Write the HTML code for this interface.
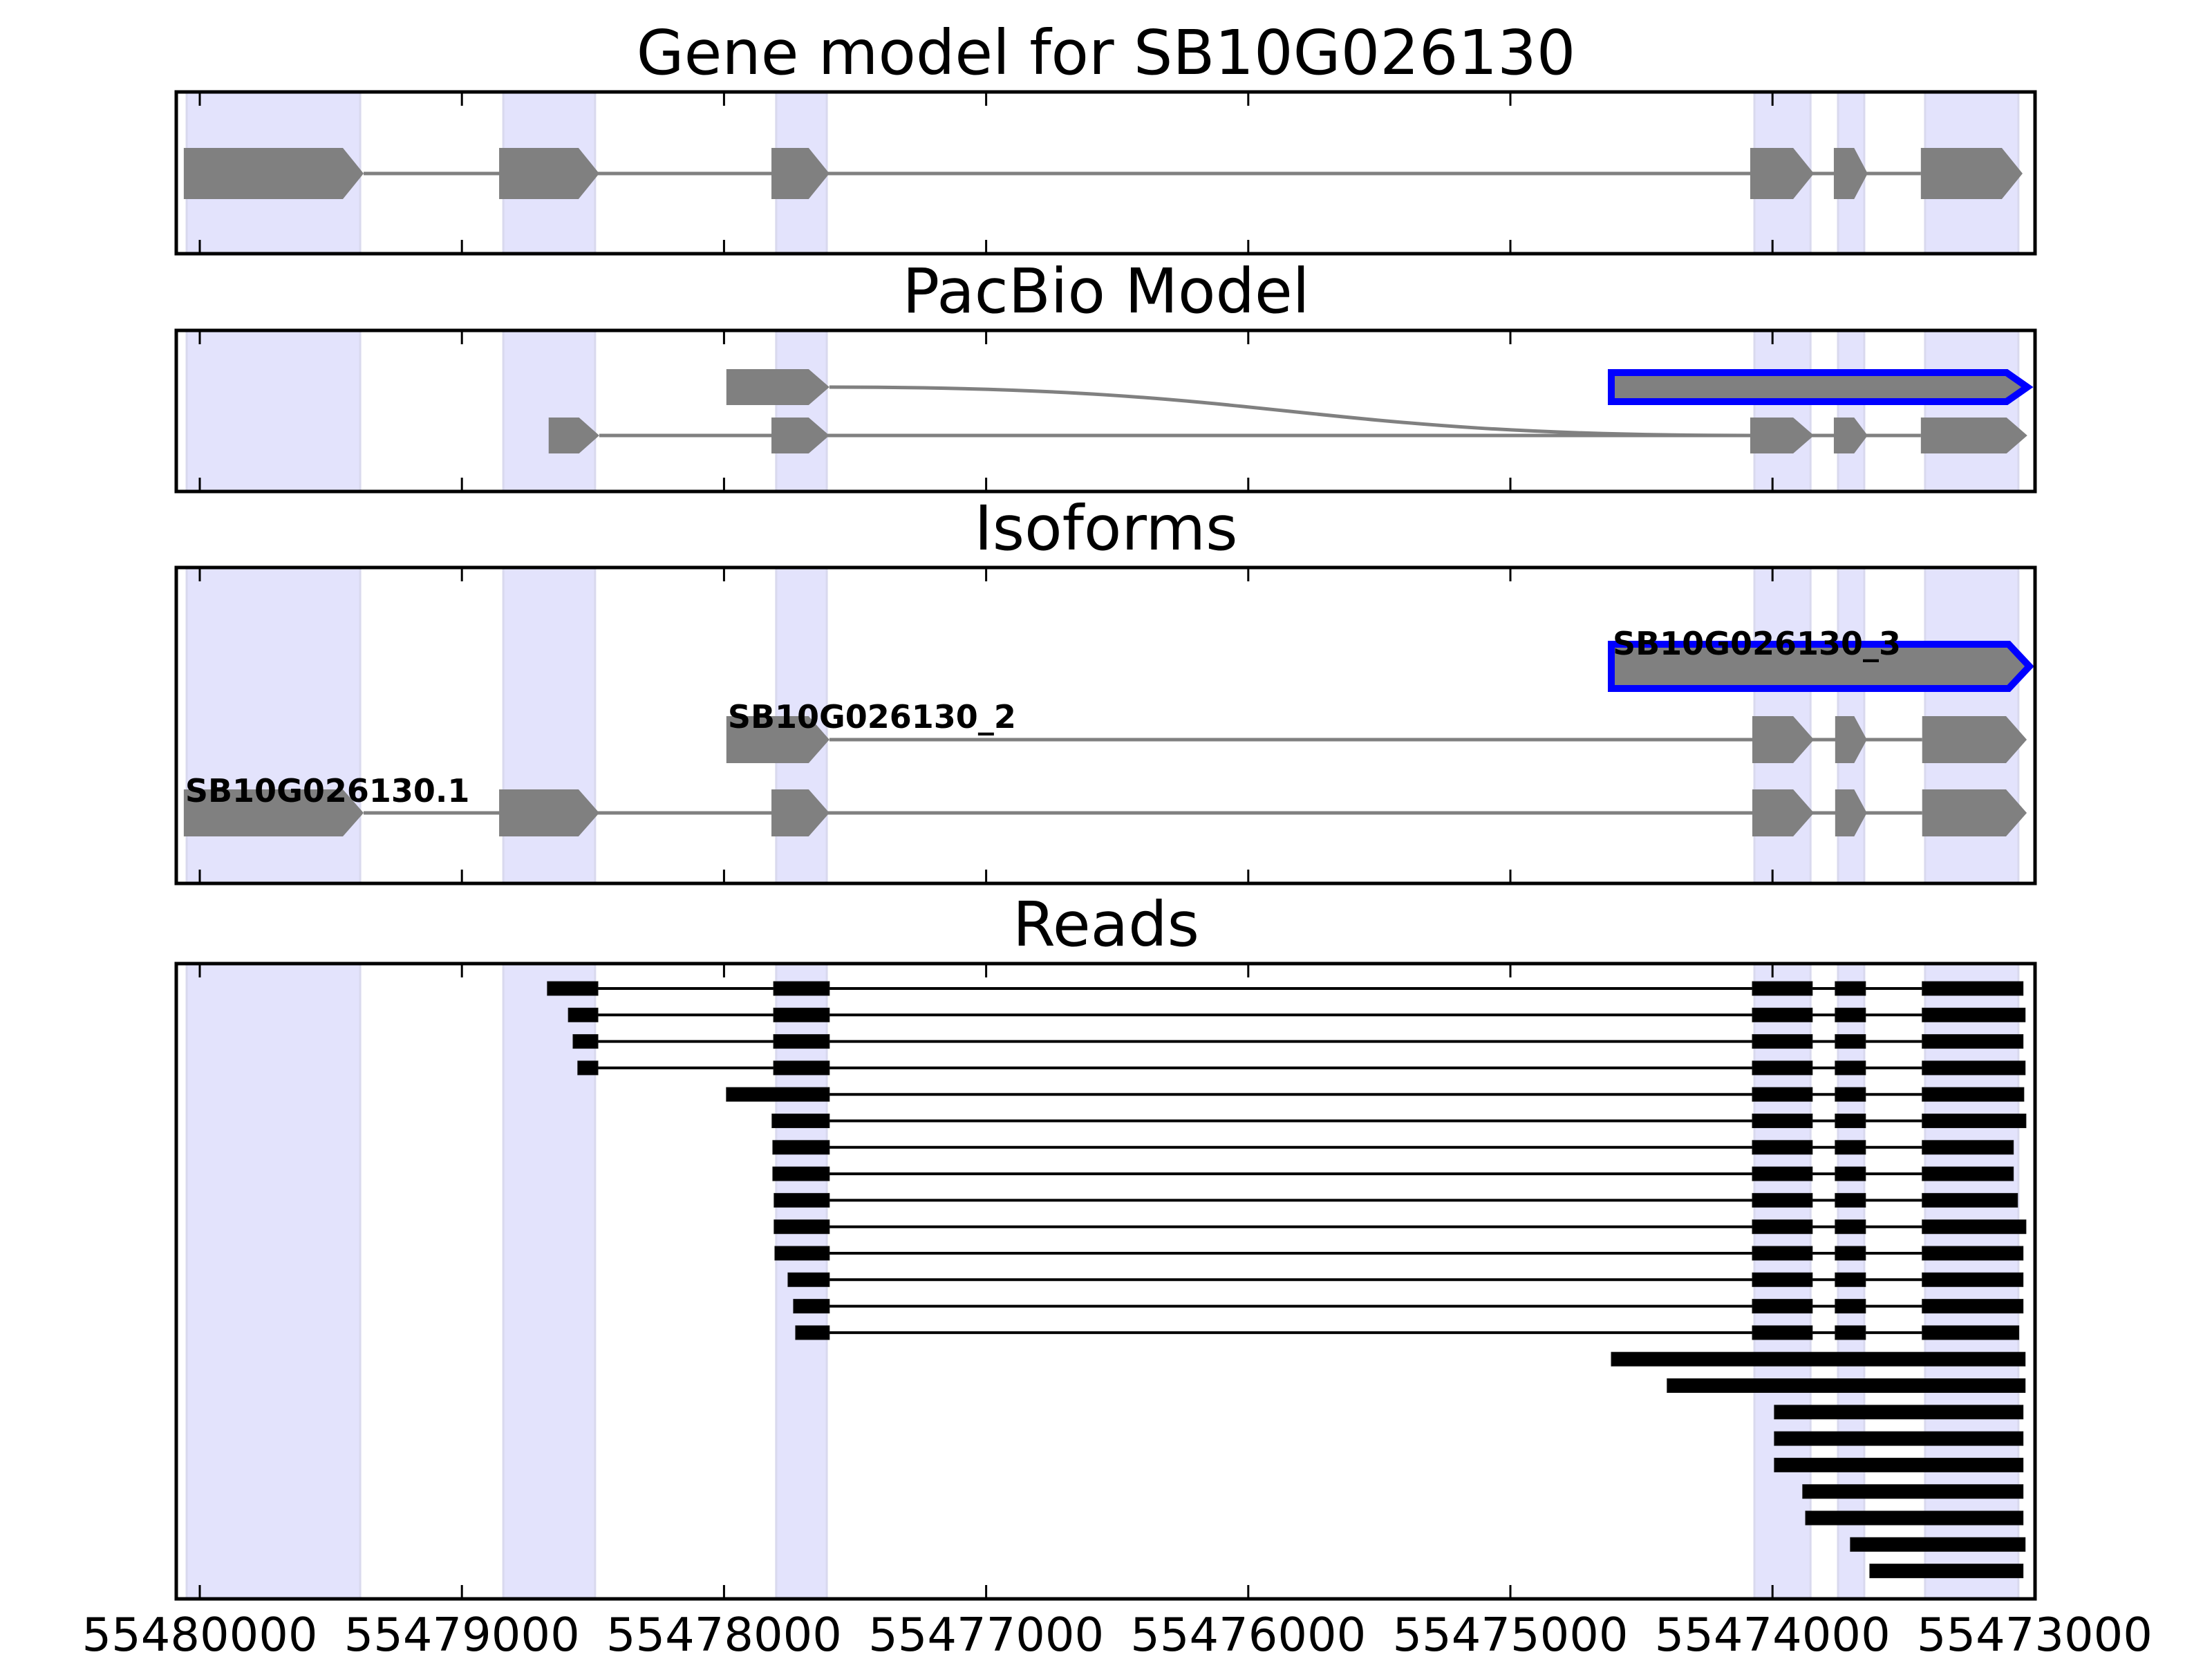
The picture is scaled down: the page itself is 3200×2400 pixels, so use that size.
<!DOCTYPE html>
<html><head><meta charset="utf-8"><style>
html,body{margin:0;padding:0;background:#fff;}
svg{display:block;font-family:"DejaVu Sans","Liberation Sans",sans-serif;}
</style></head><body>
<svg id="chart" width="3200" height="2400" viewBox="0 0 3200 2400" xmlns="http://www.w3.org/2000/svg"></svg>
<script>
// ---- data ----
const tickValues = [55480000,55479000,55478000,55477000,55476000,55475000,55474000,55473000];
const tickLabels = ["55480000","55479000","55478000","55477000","55476000","55475000","55474000","55473000"];
const shadeStarts = [55480050,55478842,55477801,55474069,55473750,55473418];
const shadeEnds   = [55479388,55478492,55477608,55473855,55473650,55473062];
const geneExons = [[55480061,55479375],[55478858,55478476],[55477819,55477598],[55474085,55473842],[55473766,55473637],[55473434,55473046]];
const pacbioRow1 = [[55477991,55477598]];
const pacbioRow1Highlight = [55474615,55473028];
const pacbioRow2 = [[55478669,55478476],[55477819,55477598],[55474085,55473842],[55473766,55473637],[55473434,55473028]];
const isoNames = ["SB10G026130.1","SB10G026130_2","SB10G026130_3"];
const iso1 = [[55480061,55479375],[55478858,55478476],[55477819,55477598],[55474077,55473842],[55473761,55473640],[55473429,55473030]];
const iso2 = [[55477991,55477598],[55474077,55473842],[55473761,55473640],[55473429,55473030]];
const iso3 = [[55474615,55473020]];
const readFirstStart = [55478674,55478594,55478576,55478558,55477991,55477817,55477814,55477814,55477809,55477809,55477806,55477756,55477735,55477727];
const readEnds = [55473044,55473036,55473044,55473036,55473041,55473033,55473081,55473081,55473065,55473033,55473044,55473044,55473044,55473060];
const readSpliced = [true,true,true,true,false,false,false,false,false,false,false,false,false,false];
const readInnerBlocks = [[55477811,55477598],[55474077,55473848],[55473761,55473645]];
const readLastStart = 55473429;
const fullStarts = [55474615,55474402,55473993,55473993,55473993,55473885,55473874,55473703,55473629];
const fullEnds   = [55473036,55473036,55473044,55473044,55473044,55473044,55473044,55473036,55473044];

// ---- scales ----
const X0 = 289, PX = 0.3792, REF = 55480000;
function x(v){ return X0 + (REF - v)*PX; }
const AX_L = 255, AX_R = 2944;
const axes = [
  {name:"gene-model", title:"Gene model for SB10G026130", top:133, bottom:367},
  {name:"pacbio", title:"PacBio Model", top:478, bottom:711},
  {name:"isoforms", title:"Isoforms", top:821, bottom:1278},
  {name:"reads", title:"Reads", top:1394, bottom:2313}
];
const svg = document.getElementById('chart');
const NS = "http://www.w3.org/2000/svg";
function mk(tag, attrs, parent){ const e=document.createElementNS(NS,tag); for(const k in attrs) e.setAttribute(k,attrs[k]); (parent||svg).appendChild(e); return e; }

function featurePath(a,b,cy,h){
  const x1=x(a), x2=x(b), w=x2-x1, tip=Math.min(30,0.4*w);
  return `M${x1},${cy-h} L${x2-tip},${cy-h} L${x2},${cy} L${x2-tip},${cy+h} L${x1},${cy+h} Z`;
}
function drawTranscript(g, exons, cy, h, nameKey){
  const line = mk('line',{x1:x(exons[0][1]),x2:x(exons[exons.length-1][0]),y1:cy,y2:cy,stroke:'#808080','stroke-width':5},g);
  
  
  exons.forEach((e,i)=>{
    const p = mk('path',{d:featurePath(e[0],e[1],cy,h),fill:'#808080'},g);
    
    
  });
}
function drawHighlight(g, a, b, cy, h, nameKey){
  const p = mk('path',{d:featurePath(a,b,cy,h),fill:'#808080',stroke:'#0000ff','stroke-width':10},g);
  
  
}

axes.forEach((ax,ai)=>{
  const g = mk('g',{});
  
  
  shadeStarts.forEach((s,i)=>{
    const r = mk('rect',{x:x(s),y:ax.top,width:x(shadeEnds[i])-x(s),height:ax.bottom-ax.top,fill:'#e3e3fc',stroke:'#d9d9ee','stroke-width':3},g);
    
    
  });
  const t = mk('text',{x:1600,y:ax.top-26,'text-anchor':'middle','font-size':89,fill:'#000'},g);
  t.textContent = ax.title;
  
  
  ax.g = g;
});

// Gene model
drawTranscript(axes[0].g, geneExons, 251, 37, 'gene-model');

// PacBio
(function(){
  const g = axes[1].g;
  const c = mk('path',{d:`M${x(pacbioRow1[0][1])},560 C1866,560 1866,630 ${x(pacbioRow2[2][0])},630`,fill:'none',stroke:'#808080','stroke-width':5},g);
  
  
  pacbioRow1.forEach((e,i)=>{
    const p = mk('path',{d:featurePath(e[0],e[1],560,26),fill:'#808080'},g);
    
    
  });
  drawHighlight(g, pacbioRow1Highlight[0], pacbioRow1Highlight[1], 560, 21, 'pacbio-highlight-feature');
  drawTranscript(g, pacbioRow2, 630, 26, 'pacbio-row2');
})();

// Isoforms
(function(){
  const g = axes[2].g;
  drawTranscript(g, iso1, 1176, 34, 'isoform-1');
  drawTranscript(g, iso2, 1070, 34, 'isoform-2');
  drawHighlight(g, iso3[0][0], iso3[0][1], 964, 32, 'isoform-3-feature');
  const labY = [1160,1053,947];
  const labX = [iso1[0][0], iso2[0][0], iso3[0][0]];
  isoNames.forEach((n,i)=>{
    const t = mk('text',{x:x(labX[i])+2,y:labY[i],'font-size':46,'font-weight':'bold',fill:'#000'},g);
    t.textContent = n;
    
    
  });
})();

// Reads
(function(){
  const g = axes[3].g;
  const ROW0 = 1430, DY = 38.3, BH = 10;
  function bar(a,b,cy,name){
    const r = mk('rect',{x:x(a),y:cy-BH,width:x(b)-x(a),height:2*BH,fill:'#000',stroke:'#111','stroke-width':1},g);
    
    
  }
  readFirstStart.forEach((s,i)=>{
    const cy = ROW0 + i*DY;
    const l = mk('line',{x1:x(s),x2:x(readEnds[i]),y1:cy,y2:cy,stroke:'#000','stroke-width':4},g);
    
    
    if(readSpliced[i]){
      bar(s, 55478481, cy, 'read-'+(i+1)+'-block-1');
      readInnerBlocks.forEach((b,j)=>bar(b[0],b[1],cy,'read-'+(i+1)+'-block-'+(j+2)));
    } else {
      bar(s, readInnerBlocks[0][1], cy, 'read-'+(i+1)+'-block-1');
      readInnerBlocks.slice(1).forEach((b,j)=>bar(b[0],b[1],cy,'read-'+(i+1)+'-block-'+(j+2)));
    }
    bar(readLastStart, readEnds[i], cy, 'read-'+(i+1)+'-block-last');
  });
  fullStarts.forEach((s,k)=>{
    const i = readFirstStart.length + k;
    bar(s, fullEnds[k], ROW0 + i*DY, 'read-'+(i+1)+'-block');
  });
})();

// frames, ticks
axes.forEach((ax,ai)=>{
  const g = ax.g;
  tickValues.forEach((v,i)=>{
    const tx = x(v);
    const a = mk('line',{x1:tx,x2:tx,y1:ax.top,y2:ax.top+20,stroke:'#000','stroke-width':3},g);
    
    
    const b = mk('line',{x1:tx,x2:tx,y1:ax.bottom-20,y2:ax.bottom,stroke:'#000','stroke-width':3},g);
    
    
    if(ai===axes.length-1){
      const t = mk('text',{x:tx,y:2388,'text-anchor':'middle','font-size':67,fill:'#000'},g);
      t.textContent = tickLabels[i];
      
      
    }
  });
  const f = mk('rect',{x:AX_L,y:ax.top,width:AX_R-AX_L,height:ax.bottom-ax.top,fill:'none',stroke:'#000','stroke-width':5},g);
  
  
});
</script>
</body></html>
